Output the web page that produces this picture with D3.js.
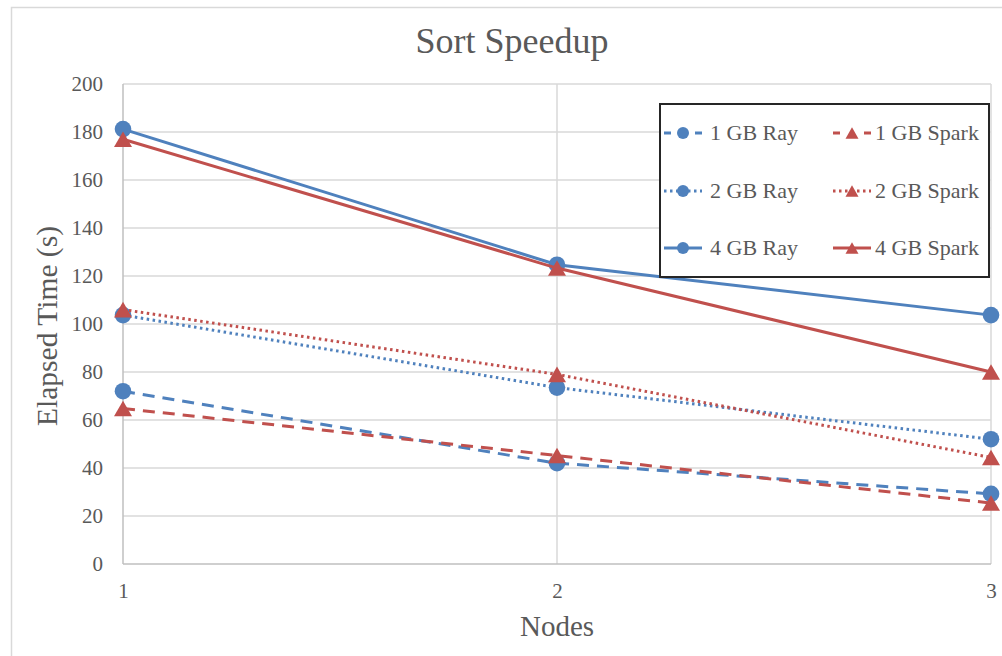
<!DOCTYPE html>
<html>
<head>
<meta charset="utf-8">
<script src="https://cdn.jsdelivr.net/npm/d3@7"></script>
<style>
  html, body { margin: 0; padding: 0; background: #fff; }
  svg { display: block; }
</style>
</head>
<body>
<svg id="chart" width="1002" height="656"></svg>
<script>
// ---- data ----
const nodes = [1, 2, 3];
const yTicks = [0, 20, 40, 60, 80, 100, 120, 140, 160, 180, 200];
const seriesNames = ["1 GB Ray", "1 GB Spark", "2 GB Ray", "2 GB Spark", "4 GB Ray", "4 GB Spark"];
const ray1   = [72, 42, 29.2];
const spark1 = [64.8, 45.2, 25.4];
const ray2   = [103.7, 73.5, 52];
const spark2 = [106, 79, 44.4];
const ray4   = [181.2, 124.7, 103.7];
const spark4 = [177, 123.3, 80];
const seriesValues = [ray1, spark1, ray2, spark2, ray4, spark4];
const titleText = "Sort Speedup";
const xTitle = "Nodes";
const yTitle = "Elapsed Time (s)";

// ---- styles ----
const BLUE = "#4f81bd", RED = "#c0504d";
const styles = [
  {color: BLUE, dash: "12,8", marker: "circle"},
  {color: RED,  dash: "12,8", marker: "triangle"},
  {color: BLUE, dash: "2.5,3.5", marker: "circle"},
  {color: RED,  dash: "2.5,3.5", marker: "triangle"},
  {color: BLUE, dash: null, marker: "circle"},
  {color: RED,  dash: null, marker: "triangle"}
];
const FONT = "'Liberation Serif', 'Times New Roman', serif";
const TXT = "#595959";
const GRID = "#d9d9d9";

const svg = d3.select("#chart");
svg.append("rect").attr("width", 1002).attr("height", 656).attr("fill", "#fff");
// outer chart border
svg.append("rect").attr("x", 11.5).attr("y", 7.5).attr("width", 1010).attr("height", 670)
  .attr("fill", "none").attr("stroke", GRID).attr("stroke-width", 1.5);

const x = d3.scaleLinear().domain([1, 3]).range([123, 991]);
const y = d3.scaleLinear().domain([0, 200]).range([564, 84]);

// gridlines
const g = svg.append("g");
g.selectAll("line.h").data(yTicks.slice(1)).join("line")
  .attr("x1", x(1)).attr("x2", x(3)).attr("y1", d => y(d)).attr("y2", d => y(d))
  .attr("stroke", GRID).attr("stroke-width", 1.5);
g.selectAll("line.v").data(nodes.slice(1)).join("line")
  .attr("x1", d => x(d)).attr("x2", d => x(d)).attr("y1", y(0)).attr("y2", y(200))
  .attr("stroke", GRID).attr("stroke-width", 1.5);
// axis lines
g.append("line").attr("x1", x(1)).attr("x2", x(1)).attr("y1", y(0)).attr("y2", y(200))
  .attr("stroke", "#bfbfbf").attr("stroke-width", 1.5);
g.append("line").attr("x1", x(1)).attr("x2", x(3)).attr("y1", y(0)).attr("y2", y(0))
  .attr("stroke", "#bfbfbf").attr("stroke-width", 1.5);

// axes (labels)
const yAxis = svg.append("g").attr("transform", `translate(${x(1)},0)`)
  .call(d3.axisLeft(y).tickValues(yTicks).tickSize(0).tickPadding(20));
yAxis.select(".domain").remove();
yAxis.selectAll("text").attr("font-family", FONT).attr("font-size", 21).attr("fill", TXT);

const xAxis = svg.append("g").attr("transform", `translate(0,${y(0)})`)
  .call(d3.axisBottom(x).tickValues(nodes).tickFormat(d3.format("d")).tickSize(0).tickPadding(19));
xAxis.select(".domain").remove();
xAxis.selectAll("text").attr("font-family", FONT).attr("font-size", 21).attr("fill", TXT);

// titles
svg.append("text").attr("x", 512).attr("y", 53).attr("text-anchor", "middle")
  .attr("font-family", FONT).attr("font-size", 36).attr("fill", TXT).text(titleText);
svg.append("text").attr("x", 557).attr("y", 636).attr("text-anchor", "middle")
  .attr("font-family", FONT).attr("font-size", 29).attr("fill", TXT).text(xTitle);
svg.append("text").attr("transform", "translate(57,326) rotate(-90)").attr("text-anchor", "middle")
  .attr("font-family", FONT).attr("font-size", 29.5).attr("fill", TXT).text(yTitle);

function triPath(s) {
  const h = s * Math.sqrt(3) / 2;
  return `M0,${-h/2}L${s/2},${h/2}L${-s/2},${h/2}Z`;
}
function drawMarker(sel, type, color, big) {
  if (type === "circle") {
    sel.append("circle").attr("r", big ? 8.3 : 6).attr("fill", color);
  } else {
    sel.append("path").attr("d", triPath(big ? 18 : 13)).attr("fill", color);
  }
}

const line = d3.line().x((d, i) => x(nodes[i])).y(d => y(d));
seriesValues.forEach((vals, si) => {
  const st = styles[si];
  const sg = svg.append("g");
  sg.append("path").datum(vals).attr("d", line).attr("fill", "none")
    .attr("stroke", st.color).attr("stroke-width", 3)
    .attr("stroke-dasharray", st.dash);
  vals.forEach((v, i) => {
    const m = sg.append("g").attr("transform", `translate(${x(nodes[i])},${y(v)})`);
    drawMarker(m, st.marker, st.color, true);
  });
});

// legend
const lg = svg.append("g");
lg.append("rect").attr("x", 660).attr("y", 104).attr("width", 329).attr("height", 173)
  .attr("fill", "#fff").attr("stroke", "#262626").attr("stroke-width", 2);
const colX = [683, 852], rowY = [133, 191, 248];
seriesNames.forEach((name, si) => {
  const st = styles[si];
  const cx = colX[si % 2], cy = rowY[Math.floor(si / 2)];
  const item = lg.append("g").attr("transform", `translate(${cx},${cy})`);
  item.append("line").attr("x1", -19).attr("x2", 19).attr("y1", 0).attr("y2", 0)
    .attr("stroke", st.color).attr("stroke-width", 3)
    .attr("stroke-dasharray", st.dash ? (st.dash === "12,8" ? "7,24" : st.dash) : null)
    .attr("stroke-dashoffset", st.dash === "12,8" ? 0 : null);
  drawMarker(item, st.marker, st.color, false);
  item.append("text").attr("x", si % 2 === 0 ? 27 : 23).attr("y", 0).attr("dy", "0.33em")
    .attr("font-family", FONT).attr("font-size", 22).attr("fill", TXT).text(name);
});
</script>
</body>
</html>
